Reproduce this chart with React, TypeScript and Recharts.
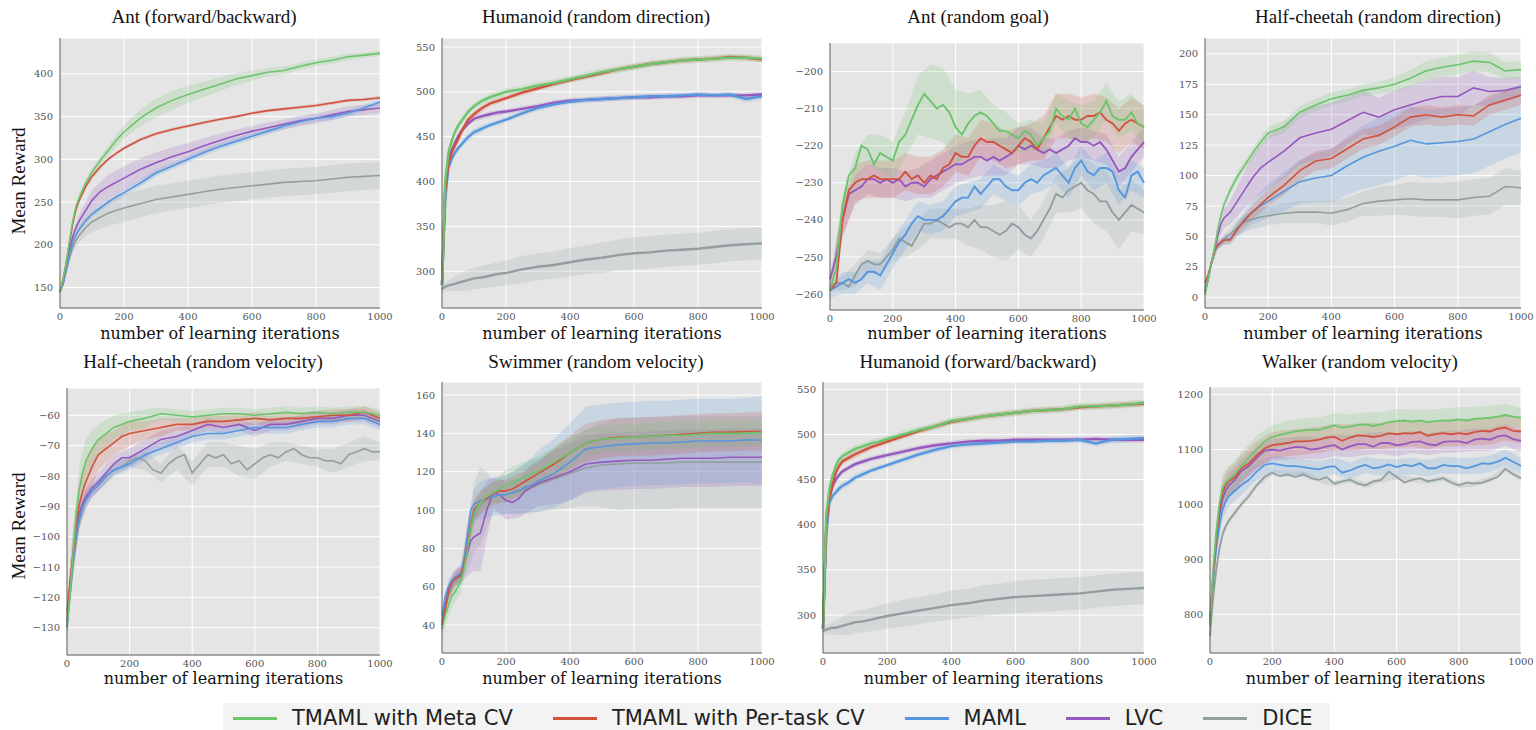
import React from "react";
import { ComposedChart, Line, Area, XAxis, YAxis, CartesianGrid } from "recharts";

const GREEN = "#6cc46c";
const RED = "#d1523d";
const BLUE = "#5596dd";
const PURPLE = "#9558bf";
const GRAY = "#939e9e";

const LEGEND = [
  { label: "TMAML with Meta CV", color: GREEN },
  { label: "TMAML with Per-task CV", color: RED },
  { label: "MAML", color: BLUE },
  { label: "LVC", color: PURPLE },
  { label: "DICE", color: GRAY },
];

const X_TICKS = [0, 200, 400, 600, 800, 1000];

// shared iteration grids
const STEPS = [0, 10, 20, 30, 40, 50, 60, 80, 100, 125, 150, 175, 200, 250, 300, 350, 400, 450, 500, 550, 600, 650, 700, 750, 800, 850, 900, 950, 1000];
const BAND_STEPS = [0, 20, 40, 60, 80, 100, 150, 200, 250, 300, 350, 400, 450, 500, 550, 600, 650, 700, 750, 800, 850, 900, 950, 1000];

// Ant (forward/backward)
const antFbMeta = [145, 160, 180, 205, 228, 245, 255, 272, 285, 298, 310, 322, 332, 348, 360, 369, 376, 382, 388, 394, 398, 402, 404, 409, 413, 416, 420, 422, 424];
const antFbTask = [145, 160, 180, 203, 225, 242, 252, 268, 280, 291, 300, 307, 313, 323, 330, 335, 339, 343, 347, 350, 354, 357, 359, 361, 363, 366, 369, 370, 372];
const antFbMaml = [145, 155, 172, 190, 203, 212, 218, 228, 236, 243, 250, 256, 261, 272, 284, 292, 300, 308, 315, 321, 327, 333, 339, 344, 348, 350, 354, 360, 367];
const antFbLvc = [145, 155, 175, 195, 210, 220, 228, 240, 252, 262, 268, 273, 278, 288, 296, 303, 309, 316, 322, 328, 333, 337, 341, 345, 348, 352, 356, 358, 360];
const antFbDice = [145, 155, 170, 185, 197, 205, 211, 220, 227, 232, 237, 240, 243, 248, 253, 256, 259, 262, 265, 267, 269, 271, 273, 274, 275, 277, 279, 280, 281];
const antFbMetaBand = [2, 3, 4, 5, 5, 5, 6, 8, 10, 11, 11, 10, 9, 8, 7, 6, 5, 5, 4, 4, 4, 4, 3, 3];
const antFbTaskBand = [2, 2, 3, 3, 3, 3, 2, 2, 2, 2, 2, 2, 2, 2, 2, 2, 2, 2, 2, 2, 2, 2, 2, 2];
const antFbMamlBand = [2, 3, 4, 4, 4, 4, 4, 4, 4, 4, 4, 4, 4, 4, 4, 4, 4, 4, 4, 4, 4, 4, 4, 4];
const antFbLvcBand = [2, 4, 6, 8, 10, 12, 14, 14, 13, 12, 11, 10, 9, 8, 7, 6, 6, 6, 6, 6, 6, 6, 6, 6];
const antFbDiceBand = [2, 4, 6, 8, 10, 12, 15, 16, 16, 16, 16, 16, 16, 16, 16, 16, 16, 16, 16, 16, 16, 16, 16, 16];

// Humanoid (random direction)
const humDirMeta = [285, 400, 432, 445, 455, 462, 467, 477, 484, 490, 494, 497, 500, 503, 507, 510, 514, 518, 522, 525, 528, 531, 533, 535, 536, 537, 538, 538, 537];
const humDirTask = [285, 390, 420, 432, 440, 447, 455, 468, 475, 482, 487, 490, 493, 499, 504, 509, 513, 517, 521, 525, 528, 531, 533, 535, 536, 537, 539, 538, 536];
const humDirMaml = [285, 380, 415, 425, 432, 437, 441, 449, 455, 459, 463, 466, 469, 476, 482, 486, 489, 491, 492, 493, 494, 495, 495, 496, 497, 496, 497, 492, 495];
const humDirLvc = [285, 395, 425, 435, 443, 450, 456, 464, 470, 473, 475, 477, 478, 481, 484, 488, 490, 491, 492, 493, 494, 494, 495, 495, 496, 496, 496, 496, 497];
const humDirDice = [280, 283, 284, 285, 286, 287, 288, 290, 292, 293, 295, 297, 298, 302, 305, 307, 310, 313, 315, 318, 320, 321, 323, 324, 325, 327, 329, 330, 331];
const humDirMetaBand = [2, 6, 5, 4, 4, 4, 4, 4, 4, 4, 4, 4, 4, 4, 4, 4, 4, 4, 4, 4, 4, 4, 4, 4];
const humDirTaskBand = [2, 5, 4, 4, 4, 4, 3, 3, 3, 3, 3, 3, 3, 3, 3, 3, 3, 3, 3, 3, 3, 3, 3, 3];
const humDirMamlBand = [2, 4, 4, 4, 4, 4, 3, 3, 3, 3, 3, 3, 3, 3, 3, 3, 3, 3, 3, 3, 3, 3, 4, 4];
const humDirLvcBand = [2, 4, 3, 3, 3, 3, 3, 3, 3, 3, 3, 3, 3, 3, 3, 3, 3, 3, 3, 3, 3, 3, 3, 3];
const humDirDiceBand = [4, 6, 8, 10, 12, 12, 13, 14, 15, 15, 15, 16, 16, 17, 17, 18, 18, 18, 18, 18, 18, 18, 18, 18];

// Ant (random goal)
const GOAL_X = [0, 20, 40, 60, 80, 100, 120, 140, 160, 180, 200, 220, 240, 260, 280, 300, 320, 340, 360, 380, 400, 420, 440, 460, 480, 500, 520, 540, 560, 580, 600, 620, 640, 660, 680, 700, 720, 740, 760, 780, 800, 820, 840, 860, 880, 900, 920, 940, 960, 980, 1000];
const GOAL_BX = [0, 40, 80, 120, 160, 200, 240, 280, 320, 360, 400, 440, 480, 520, 560, 600, 640, 680, 720, 760, 800, 840, 880, 920, 960, 1000];
const goalMeta = [-259, -253, -236, -228, -226, -220, -221, -225, -222, -223, -224, -219, -217, -213, -209, -206, -208, -210, -209, -211, -215, -217, -214, -212, -211, -212, -214, -216, -216, -217, -218, -216, -217, -220, -218, -216, -210, -212, -213, -210, -214, -215, -213, -211, -208, -212, -213, -213, -211, -214, -215];
const goalTask = [-259, -257, -240, -232, -230, -229, -229, -228, -229, -229, -229, -229, -227, -229, -228, -230, -228, -229, -226, -225, -222, -223, -223, -220, -218, -219, -219, -220, -221, -222, -220, -218, -219, -221, -218, -215, -212, -213, -212, -213, -213, -212, -212, -211, -213, -214, -216, -214, -213, -214, -215];
const goalMaml = [-259, -258, -257, -256, -257, -256, -254, -254, -255, -252, -249, -246, -244, -241, -239, -240, -240, -240, -239, -237, -235, -234, -234, -231, -233, -231, -229, -229, -231, -232, -232, -230, -229, -230, -228, -227, -226, -228, -230, -226, -224, -227, -228, -226, -226, -227, -232, -234, -228, -227, -230];
const goalLvc = [-256, -250, -240, -233, -232, -231, -229, -229, -230, -229, -230, -229, -231, -230, -230, -231, -229, -228, -227, -226, -225, -225, -224, -223, -223, -224, -223, -224, -223, -222, -220, -221, -220, -221, -222, -221, -222, -221, -220, -218, -219, -219, -220, -219, -221, -224, -227, -226, -223, -221, -219];
const goalDice = [-258, -257, -257, -258, -255, -252, -251, -252, -252, -250, -248, -245, -246, -247, -244, -241, -241, -240, -241, -242, -241, -241, -242, -240, -242, -242, -243, -244, -243, -241, -242, -244, -245, -243, -240, -237, -233, -234, -232, -231, -230, -232, -233, -235, -235, -238, -240, -238, -236, -237, -238];
const goalMetaBand = [1, 3, 4, 4, 5, 5, 6, 8, 10, 10, 10, 8, 6, 5, 5, 4, 4, 4, 4, 5, 5, 5, 5, 5, 5, 5];
const goalTaskBand = [1, 5, 5, 5, 5, 5, 5, 5, 5, 5, 5, 5, 5, 5, 5, 5, 5, 6, 6, 6, 6, 6, 6, 6, 6, 6];
const goalMamlBand = [2, 3, 3, 3, 4, 4, 4, 4, 4, 4, 4, 4, 4, 4, 4, 4, 4, 4, 4, 4, 4, 4, 4, 4, 4, 4];
const goalLvcBand = [1, 4, 4, 4, 4, 4, 4, 4, 5, 5, 5, 5, 5, 5, 5, 5, 5, 4, 4, 4, 4, 4, 4, 4, 4, 4];
const goalDiceBand = [1, 2, 3, 3, 3, 3, 4, 4, 4, 4, 4, 5, 6, 7, 8, 6, 5, 5, 5, 6, 7, 8, 8, 8, 7, 6];

// Half-cheetah (random direction)
const hcDirMeta = [2, 15, 28, 40, 55, 67, 76, 88, 98, 108, 118, 127, 135, 140, 152, 158, 163, 166, 170, 172, 175, 180, 186, 189, 191, 194, 193, 186, 187];
const hcDirTask = [12, 18, 28, 38, 43, 45, 47, 47, 55, 63, 70, 76, 82, 92, 104, 112, 114, 122, 130, 133, 140, 148, 150, 148, 150, 149, 158, 162, 166];
const hcDirMaml = [8, 15, 28, 38, 42, 45, 47, 48, 55, 64, 70, 75, 79, 87, 95, 98, 100, 108, 115, 120, 124, 129, 126, 127, 128, 130, 136, 142, 147];
const hcDirLvc = [5, 15, 28, 38, 50, 60, 65, 70, 78, 88, 98, 106, 111, 120, 131, 135, 138, 145, 152, 148, 154, 158, 162, 165, 165, 172, 169, 170, 173];
const hcDirDice = [3, 15, 28, 38, 42, 45, 48, 52, 57, 62, 64, 66, 67, 69, 70, 70, 69, 72, 77, 79, 80, 81, 80, 80, 80, 82, 83, 91, 90];
const hcDirMetaBand = [2, 3, 3, 3, 3, 4, 4, 5, 5, 5, 5, 5, 5, 5, 5, 6, 7, 8, 8, 8, 8, 8, 7, 7];
const hcDirTaskBand = [2, 3, 3, 3, 3, 4, 6, 7, 8, 8, 8, 8, 8, 8, 8, 8, 8, 8, 8, 8, 8, 8, 8, 8];
const hcDirMamlBand = [2, 3, 3, 4, 5, 6, 10, 14, 16, 18, 20, 22, 24, 26, 28, 28, 28, 28, 28, 28, 28, 28, 28, 28];
const hcDirLvcBand = [2, 3, 5, 8, 10, 12, 18, 22, 22, 22, 22, 22, 20, 18, 16, 16, 16, 16, 16, 16, 14, 12, 10, 8];
const hcDirDiceBand = [2, 3, 3, 4, 5, 6, 8, 8, 8, 9, 9, 10, 10, 10, 12, 12, 14, 14, 14, 15, 15, 15, 15, 14];

// Half-cheetah (random velocity)
const HCV_DICE_X = [0, 20, 40, 60, 80, 100, 125, 150, 175, 200, 225, 250, 275, 300, 325, 350, 375, 400, 425, 450, 475, 500, 525, 550, 575, 600, 625, 650, 675, 700, 725, 750, 775, 800, 825, 850, 875, 900, 925, 950, 975, 1000];
const hcVelMeta = [-130, -118, -105, -92, -84, -79, -75, -71, -68, -66, -64, -63, -62, -61, -59.5, -60, -60.5, -60, -59.5, -59.5, -60, -59.5, -59, -59.5, -59, -59.5, -59, -59, -60];
const hcVelTask = [-125, -115, -105, -95, -89, -85, -82, -77, -73, -71, -69, -67, -66, -65, -64, -63, -63, -62, -62, -61.5, -61, -61.5, -61, -61, -60.5, -60, -60, -59, -61];
const hcVelMaml = [-130, -118, -108, -99, -94, -90, -88, -85, -83, -80, -78, -77, -76, -73, -71, -69, -67, -66, -66, -65, -64, -64, -64, -63, -62, -62, -61, -61, -63];
const hcVelLvc = [-128, -115, -105, -97, -92, -89, -87, -84, -82, -79, -76, -74, -74, -71, -68, -67, -65, -63, -64, -63, -65, -63, -63, -62, -61, -61, -60, -60, -62];
const hcVelDice = [-130, -108, -94, -88, -85, -83, -80, -78, -77, -75, -74, -75, -78, -79, -76, -74, -73, -79, -76, -73, -74, -73, -76, -75, -78, -76, -74, -73, -74, -72, -71, -73, -74, -74, -75, -75, -76, -73, -72, -71, -72, -72];
const hcVelMetaBand = [4, 8, 8, 7, 6, 5, 4, 3, 3, 2, 2, 2, 2, 2, 2, 2, 2, 2, 2, 2, 2, 2, 2, 2];
const hcVelTaskBand = [4, 8, 8, 7, 6, 5, 4, 4, 3, 3, 2, 2, 2, 2, 2, 2, 2, 2, 2, 2, 2, 2, 2, 2];
const hcVelMamlBand = [3, 3, 3, 3, 2, 2, 2, 2, 2, 2, 2, 2, 2, 2, 2, 2, 2, 2, 2, 2, 2, 2, 2, 2];
const hcVelLvcBand = [3, 4, 4, 3, 3, 3, 3, 3, 3, 3, 3, 2, 2, 2, 2, 2, 2, 2, 2, 2, 2, 2, 2, 2];
const hcVelDiceBand = [3, 3, 3, 3, 2, 2, 2, 2, 3, 3, 4, 4, 4, 4, 5, 5, 4, 3, 3, 3, 4, 4, 4, 3];

// Swimmer (random velocity)
const SWIM_X = [0, 10, 20, 30, 40, 50, 60, 70, 80, 90, 100, 120, 140, 160, 180, 200, 220, 240, 260, 280, 300, 350, 400, 450, 500, 550, 600, 650, 700, 750, 800, 850, 900, 950, 1000];
const SWIM_BX = [0, 20, 40, 60, 80, 100, 120, 140, 160, 200, 240, 280, 300, 350, 400, 450, 500, 550, 600, 650, 700, 750, 800, 850, 900, 950, 1000];
const swimMeta = [38, 45, 50, 55, 57, 60, 63, 70, 80, 90, 98, 104, 107, 109, 111, 113, 114, 116, 117, 119, 120, 125, 130, 135, 137, 137.5, 138, 138.5, 139, 139, 139.5, 140, 140, 140, 140.5];
const swimTask = [40, 48, 57, 62, 64, 65, 66, 72, 82, 92, 100, 104, 106, 109, 110, 110, 111, 113, 115, 117, 119, 124, 130, 135, 137, 138, 138, 138.5, 139, 139.5, 140, 140.5, 140.5, 141, 141];
const swimMaml = [45, 55, 60, 63, 65, 66, 67, 75, 88, 100, 103, 105, 106, 107, 108, 108, 109, 110, 112, 113, 115, 119, 125, 132, 133, 134, 134.5, 135, 135, 135.5, 136, 136, 136, 136.5, 136.5];
const swimLvc = [42, 50, 58, 62, 64, 65, 67, 72, 78, 84, 86, 88, 100, 109, 108, 105, 104, 106, 110, 112, 114, 117, 120, 124, 125, 125.5, 126, 126, 126.5, 127, 127, 127, 127.5, 127.5, 127.5];
const swimDice = [40, 48, 55, 60, 62, 64, 66, 72, 80, 90, 96, 102, 105, 107, 108, 108, 109, 110, 111, 112, 113, 116, 119, 122, 123.5, 124, 124.5, 124.5, 124.5, 125, 125, 125, 125, 125, 125];
const swimMetaBand = [5, 5, 5, 6, 6, 6, 6, 6, 6, 8, 8, 8, 8, 8, 8, 7, 7, 7, 7, 7, 7, 7, 7, 7, 7, 7, 7];
const swimTaskBand = [3, 4, 4, 4, 5, 6, 6, 6, 6, 6, 6, 6, 6, 8, 9, 10, 10, 10, 10, 10, 10, 10, 10, 10, 10, 10, 10];
const swimMamlBand = [3, 4, 4, 4, 6, 8, 10, 10, 10, 10, 12, 14, 16, 18, 20, 22, 22, 22, 22, 22, 22, 22, 22, 22, 22, 22, 23];
const swimLvcBand = [3, 4, 4, 5, 12, 18, 20, 15, 8, 10, 10, 12, 12, 14, 15, 15, 15, 15, 15, 15, 15, 15, 15, 15, 15, 15, 15];
const swimDiceBand = [3, 3, 3, 4, 12, 18, 20, 15, 8, 10, 12, 14, 14, 16, 18, 20, 22, 24, 24, 24, 24, 24, 24, 24, 24, 24, 24];

// Humanoid (forward/backward)
const humFbMeta = [285, 410, 440, 455, 465, 472, 476, 480, 484, 487, 490, 492, 495, 500, 505, 509, 515, 517, 520, 522, 524, 526, 527, 528, 531, 531, 532, 533, 535];
const humFbTask = [285, 400, 430, 445, 458, 465, 470, 474, 478, 482, 486, 489, 492, 498, 504, 509, 514, 517, 520, 522, 524, 526, 527, 528, 530, 531, 532, 533, 534];
const humFbMaml = [285, 390, 425, 432, 436, 440, 443, 447, 452, 456, 460, 463, 466, 472, 478, 483, 487, 489, 490, 491, 492, 492, 493, 493, 494, 490, 494, 495, 496];
const humFbLvc = [285, 395, 430, 443, 450, 455, 459, 463, 467, 470, 473, 475, 477, 481, 485, 488, 490, 492, 493, 493, 494, 494, 494, 494, 494, 495, 494, 494, 494];
const humFbDice = [282, 284, 285, 286, 286, 287, 288, 290, 292, 293, 295, 297, 299, 302, 305, 308, 311, 313, 316, 318, 320, 321, 322, 323, 324, 326, 328, 329, 330];
const humFbMetaBand = [2, 6, 5, 4, 4, 4, 4, 4, 4, 4, 4, 4, 4, 4, 4, 4, 4, 4, 4, 4, 4, 4, 4, 4];
const humFbTaskBand = [2, 5, 4, 4, 4, 4, 3, 3, 3, 3, 3, 3, 3, 3, 3, 3, 3, 3, 3, 3, 3, 3, 3, 3];
const humFbMamlBand = [2, 4, 4, 4, 4, 4, 3, 3, 3, 3, 3, 3, 3, 3, 3, 3, 3, 3, 3, 3, 3, 4, 4, 4];
const humFbLvcBand = [2, 4, 3, 3, 3, 3, 3, 3, 3, 3, 3, 3, 3, 3, 3, 3, 3, 3, 3, 3, 3, 3, 3, 3];
const humFbDiceBand = [4, 6, 8, 10, 12, 12, 13, 14, 15, 15, 15, 16, 16, 17, 17, 18, 18, 18, 18, 18, 18, 18, 18, 18];

// Walker (random velocity)
const WALK_X = [0, 10, 20, 30, 40, 50, 60, 80, 100, 125, 150, 175, 200, 225, 250, 275, 300, 325, 350, 375, 400, 425, 450, 475, 500, 525, 550, 575, 600, 625, 650, 675, 700, 725, 750, 775, 800, 825, 850, 875, 900, 925, 950, 975, 1000];
const walkMeta = [780, 880, 950, 1000, 1030, 1040, 1045, 1055, 1070, 1085, 1100, 1115, 1123, 1127, 1130, 1133, 1135, 1136, 1136, 1140, 1144, 1140, 1142, 1145, 1146, 1143, 1146, 1150, 1152, 1153, 1151, 1153, 1150, 1152, 1153, 1153, 1155, 1153, 1156, 1157, 1158, 1160, 1163, 1160, 1158];
const walkTask = [780, 870, 940, 990, 1020, 1035, 1042, 1050, 1065, 1075, 1090, 1102, 1108, 1110, 1112, 1115, 1115, 1116, 1118, 1122, 1123, 1116, 1122, 1126, 1125, 1123, 1125, 1130, 1128, 1130, 1129, 1132, 1125, 1128, 1130, 1128, 1130, 1128, 1132, 1134, 1133, 1138, 1140, 1134, 1133];
const walkMaml = [790, 860, 920, 960, 990, 1005, 1015, 1025, 1035, 1045, 1060, 1072, 1075, 1072, 1070, 1070, 1068, 1066, 1064, 1068, 1070, 1058, 1062, 1068, 1072, 1066, 1068, 1073, 1068, 1072, 1070, 1075, 1066, 1066, 1072, 1070, 1070, 1066, 1070, 1075, 1074, 1078, 1085, 1078, 1070];
const walkLvc = [790, 870, 935, 980, 1010, 1025, 1035, 1045, 1060, 1070, 1085, 1098, 1100, 1098, 1102, 1105, 1104, 1100, 1102, 1106, 1108, 1100, 1106, 1110, 1110, 1105, 1112, 1112, 1108, 1110, 1114, 1115, 1110, 1108, 1114, 1115, 1115, 1112, 1118, 1120, 1118, 1124, 1126, 1119, 1116];
const walkDice = [760, 830, 880, 920, 945, 960, 970, 985, 1000, 1015, 1035, 1050, 1058, 1052, 1055, 1050, 1055, 1048, 1045, 1050, 1038, 1042, 1045, 1038, 1035, 1042, 1045, 1060, 1050, 1040, 1045, 1048, 1042, 1045, 1048, 1040, 1035, 1040, 1038, 1040, 1045, 1050, 1065, 1055, 1048];
const walkMetaBand = [10, 20, 25, 25, 25, 25, 25, 22, 22, 22, 22, 22, 22, 22, 22, 22, 22, 22, 22, 22, 22, 22, 20, 18];
const walkTaskBand = [10, 20, 25, 25, 25, 25, 25, 24, 24, 24, 24, 24, 24, 24, 24, 24, 24, 24, 24, 24, 24, 24, 24, 22];
const walkMamlBand = [10, 15, 18, 18, 18, 18, 16, 15, 15, 15, 15, 15, 15, 15, 15, 15, 15, 15, 15, 15, 15, 15, 15, 15];
const walkLvcBand = [10, 18, 22, 22, 22, 22, 20, 20, 20, 20, 20, 20, 20, 20, 20, 20, 20, 20, 20, 20, 20, 20, 20, 20];
const walkDiceBand = [5, 6, 6, 6, 6, 6, 5, 5, 5, 5, 5, 5, 5, 5, 5, 5, 5, 5, 5, 5, 5, 5, 5, 5];

type Series = { key: string; color: string; x: number[]; y: number[]; bx: number[]; hw: number[] };

const mk = (key: string, color: string, x: number[], y: number[], bx: number[], hw: number[]): Series => ({ key, color, x, y, bx, hw });

// drawn back to front: DICE, LVC, MAML, per-task, meta
const set5 = (
  x: number[],
  bx: number[],
  [meta, task, maml, lvc, dice]: number[][],
  [bMeta, bTask, bMaml, bLvc, bDice]: number[][],
  diceX?: number[]
): Series[] => [
  mk("dice", GRAY, diceX || x, dice, bx, bDice),
  mk("lvc", PURPLE, x, lvc, bx, bLvc),
  mk("maml", BLUE, x, maml, bx, bMaml),
  mk("task", RED, x, task, bx, bTask),
  mk("meta", GREEN, x, meta, bx, bMeta),
];

const PANELS = [
  {
    title: "Ant (forward/backward)", titleX: 204, row: 0, yLabel: true,
    rect: { x: 60, y: 38, w: 320, h: 270 }, domain: [126, 442], ticks: [150, 200, 250, 300, 350, 400], lw: 1.6,
    series: set5(STEPS, BAND_STEPS, [antFbMeta, antFbTask, antFbMaml, antFbLvc, antFbDice], [antFbMetaBand, antFbTaskBand, antFbMamlBand, antFbLvcBand, antFbDiceBand]),
  },
  {
    title: "Humanoid (random direction)", titleX: 596, row: 0, yLabel: false,
    rect: { x: 442, y: 38, w: 320, h: 270 }, domain: [259, 560], ticks: [300, 350, 400, 450, 500, 550], lw: 2.4,
    series: set5(STEPS, BAND_STEPS, [humDirMeta, humDirTask, humDirMaml, humDirLvc, humDirDice], [humDirMetaBand, humDirTaskBand, humDirMamlBand, humDirLvcBand, humDirDiceBand]),
  },
  {
    title: "Ant (random goal)", titleX: 978, row: 0, yLabel: false,
    rect: { x: 830, y: 43, w: 314, h: 267 }, domain: [-264.3, -192.3], ticks: [-260, -250, -240, -230, -220, -210, -200], lw: 1.9,
    series: set5(GOAL_X, GOAL_BX, [goalMeta, goalTask, goalMaml, goalLvc, goalDice], [goalMetaBand, goalTaskBand, goalMamlBand, goalLvcBand, goalDiceBand]),
  },
  {
    title: "Half-cheetah (random direction)", titleX: 1378, row: 0, yLabel: false,
    rect: { x: 1205, y: 38, w: 316, h: 270 }, domain: [-8.8, 213], ticks: [0, 25, 50, 75, 100, 125, 150, 175, 200], lw: 1.6,
    series: set5(STEPS, BAND_STEPS, [hcDirMeta, hcDirTask, hcDirMaml, hcDirLvc, hcDirDice], [hcDirMetaBand, hcDirTaskBand, hcDirMamlBand, hcDirLvcBand, hcDirDiceBand]),
  },
  {
    title: "Half-cheetah (random velocity)", titleX: 203, row: 1, yLabel: true,
    rect: { x: 67, y: 388, w: 313, h: 267 }, domain: [-139, -51], ticks: [-130, -120, -110, -100, -90, -80, -70, -60], lw: 1.6,
    series: set5(STEPS, BAND_STEPS, [hcVelMeta, hcVelTask, hcVelMaml, hcVelLvc, hcVelDice], [hcVelMetaBand, hcVelTaskBand, hcVelMamlBand, hcVelLvcBand, hcVelDiceBand], HCV_DICE_X),
  },
  {
    title: "Swimmer (random velocity)", titleX: 596, row: 1, yLabel: false,
    rect: { x: 442, y: 382, w: 320, h: 271 }, domain: [25.4, 166.8], ticks: [40, 60, 80, 100, 120, 140, 160], lw: 1.6,
    series: set5(SWIM_X, SWIM_BX, [swimMeta, swimTask, swimMaml, swimLvc, swimDice], [swimMetaBand, swimTaskBand, swimMamlBand, swimLvcBand, swimDiceBand]),
  },
  {
    title: "Humanoid (forward/backward)", titleX: 978, row: 1, yLabel: false,
    rect: { x: 823, y: 382, w: 321, h: 271 }, domain: [258, 558], ticks: [300, 350, 400, 450, 500, 550], lw: 2.4,
    series: set5(STEPS, BAND_STEPS, [humFbMeta, humFbTask, humFbMaml, humFbLvc, humFbDice], [humFbMetaBand, humFbTaskBand, humFbMamlBand, humFbLvcBand, humFbDiceBand]),
  },
  {
    title: "Walker (random velocity)", titleX: 1360, row: 1, yLabel: false,
    rect: { x: 1210, y: 387, w: 311, h: 266 }, domain: [729.6, 1214], ticks: [800, 900, 1000, 1100, 1200], lw: 1.8,
    series: set5(WALK_X, BAND_STEPS, [walkMeta, walkTask, walkMaml, walkLvc, walkDice], [walkMetaBand, walkTaskBand, walkMamlBand, walkLvcBand, walkDiceBand]),
  },
];

const lineRows = (s: Series) => s.x.map((x, i) => ({ x, y: s.y[i] }));

const bandRows = (s: Series) =>
  s.bx.map((bx, j) => {
    const m = s.y[s.x.indexOf(bx)];
    return { x: bx, r: [m - s.hw[j], m + s.hw[j]] };
  });

const fmtTick = (v: number) => (v < 0 ? `\u2212${Math.abs(v)}` : String(v));

const TICK = { fill: "#555", fontSize: 10, fontFamily: "DejaVu Serif" };
const SPINE = { stroke: "#555", strokeWidth: 1 };

const centered = (x: number, y: number): React.CSSProperties => ({
  position: "absolute",
  left: x,
  top: y,
  transform: "translate(-50%, -50%)",
  whiteSpace: "nowrap",
  color: "#111",
});

function Panel({ p }: { p: (typeof PANELS)[number] }) {
  const r = p.rect;
  const rowTitleY = p.row === 0 ? 17 : 362;
  const rowXLabelY = p.row === 0 ? 333 : 678;
  return (
    <>
      <div style={{ ...centered(p.titleX, rowTitleY), fontFamily: "Liberation Serif", fontSize: 19 }}>{p.title}</div>
      <div style={{ position: "absolute", left: r.x - 60, top: r.y - 4 }}>
        <ComposedChart width={r.w + 82} height={r.h + 26} margin={{ top: 4, right: 22, bottom: 0, left: 0 }}>
          <CartesianGrid fill="#e5e5e5" fillOpacity={1} stroke="#ffffff" strokeWidth={1} />
          <XAxis
            type="number"
            dataKey="x"
            domain={[0, 1000]}
            ticks={X_TICKS}
            interval={0}
            height={22}
            axisLine={SPINE}
            tickLine={false}
            tickSize={3}
            tickMargin={2}
            tick={TICK}
          />
          <YAxis
            type="number"
            domain={p.domain}
            ticks={p.ticks}
            interval={0}
            allowDataOverflow
            width={60}
            axisLine={SPINE}
            tickLine={false}
            tickSize={4}
            tickMargin={3}
            tick={TICK}
            tickFormatter={fmtTick}
          />
          {p.series.map((s) => (
            <Area
              key={`band-${s.key}`}
              data={bandRows(s)}
              dataKey="r"
              type="linear"
              stroke="none"
              fill={s.color}
              fillOpacity={0.2}
              dot={false}
              activeDot={false}
              isAnimationActive={false}
            />
          ))}
          {p.series.map((s) => (
            <Line
              key={`line-${s.key}`}
              data={lineRows(s)}
              dataKey="y"
              type="linear"
              stroke={s.color}
              strokeWidth={p.lw}
              dot={false}
              activeDot={false}
              isAnimationActive={false}
            />
          ))}
        </ComposedChart>
      </div>
      <div style={{ ...centered(r.x + r.w / 2, rowXLabelY), fontFamily: "DejaVu Serif", fontSize: 16 }}>
        number of learning iterations
      </div>
      {p.yLabel && (
        <div
          style={{
            ...centered(19, p.row === 0 ? 181 : 526),
            transform: "translate(-50%, -50%) rotate(-90deg)",
            fontFamily: "Liberation Serif",
            fontSize: 19,
          }}
        >
          Mean Reward
        </div>
      )}
    </>
  );
}

export default function App() {
  return (
    <div
      style={{
        position: "absolute",
        left: 0,
        top: 0,
        width: 1536,
        height: 730,
        overflow: "hidden",
        background: "#ffffff",
      }}
    >
      {PANELS.map((p) => (
        <Panel key={p.title} p={p} />
      ))}
      <div
        style={{
          position: "absolute",
          left: 223,
          top: 703,
          width: 1107,
          height: 24,
          paddingTop: 3,
          background: "#f3f3f3",
          display: "flex",
          alignItems: "center",
          fontFamily: "DejaVu Sans",
          fontSize: 21,
          lineHeight: "24px",
          color: "#222",
          whiteSpace: "nowrap",
        }}
      >
        <div style={{ width: 10, flexShrink: 0 }} />
        {LEGEND.map((l) => (
          <div key={l.label} style={{ display: "flex", alignItems: "center", marginRight: 40, flexShrink: 0 }}>
            <div style={{ width: 44, height: 3, background: l.color, marginRight: 15, flexShrink: 0 }} />
            <span>{l.label}</span>
          </div>
        ))}
      </div>
    </div>
  );
}
